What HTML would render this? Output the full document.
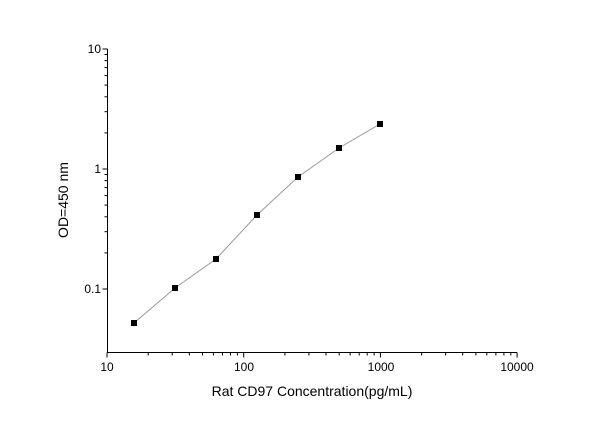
<!DOCTYPE html>
<html><head><meta charset="utf-8"><style>
html,body{margin:0;padding:0;background:#fff;}
svg{display:block;font-family:"Liberation Sans",Arial,sans-serif;}
</style></head><body>
<svg id="s" width="600" height="421" xmlns="http://www.w3.org/2000/svg">
<rect width="600" height="421" fill="#fff"/>
<g id="ax" stroke="#000" stroke-width="1"></g>
<polyline points="134,323 175,288 216,259 257,215 298,177 339,148 380,124" fill="none" stroke="#999" stroke-width="1"/>
<g fill="#000">
<rect x="131" y="320" width="6" height="6"/>
<rect x="172" y="285" width="6" height="6"/>
<rect x="213" y="256" width="6" height="6"/>
<rect x="254" y="212" width="6" height="6"/>
<rect x="295" y="174" width="6" height="6"/>
<rect x="336" y="145" width="6" height="6"/>
<rect x="377" y="121" width="6" height="6"/>
</g>
<g font-size="12" fill="#000">
<text x="101" y="53" text-anchor="end">10</text>
<text x="101" y="173" text-anchor="end">1</text>
<text x="101" y="293" text-anchor="end">0.1</text>
<text x="107" y="371" text-anchor="middle">10</text>
<text x="244" y="371" text-anchor="middle">100</text>
<text x="381" y="371" text-anchor="middle">1000</text>
<text x="517" y="371" text-anchor="middle">10000</text>
</g>
<text x="312" y="396" font-size="14" text-anchor="middle">Rat CD97 Concentration(pg/mL)</text>
<text transform="translate(68,200) rotate(-90)" font-size="14" text-anchor="middle">OD=450 nm</text>
</svg>
<script>
var g=document.getElementById('ax'),h='';
h+='<line x1="107.5" y1="49" x2="107.5" y2="352.5"/><line x1="107" y1="352.5" x2="517" y2="352.5"/>';
for(var d=0;d<3;d++){for(var k=1;k<10;k++){var v=d-1+Math.log10(k);var y=169-120*v;if(y>352||y<49)continue;var L=k==1?5:3;h+='<line x1="'+(107.5-L)+'" y1="'+y.toFixed(1)+'" x2="107.5" y2="'+y.toFixed(1)+'"/>';}}
h+='<line x1="102.5" y1="49" x2="107.5" y2="49"/>';
for(var d=0;d<4;d++){for(var k=1;k<10;k++){if(d==3&&k>1)break;var x=107+136.7*(d+Math.log10(k));var L=k==1?5:3;h+='<line x1="'+x.toFixed(1)+'" y1="352.5" x2="'+x.toFixed(1)+'" y2="'+(352.5+L)+'"/>';}}
g.innerHTML=h;
</script>
</body></html>
